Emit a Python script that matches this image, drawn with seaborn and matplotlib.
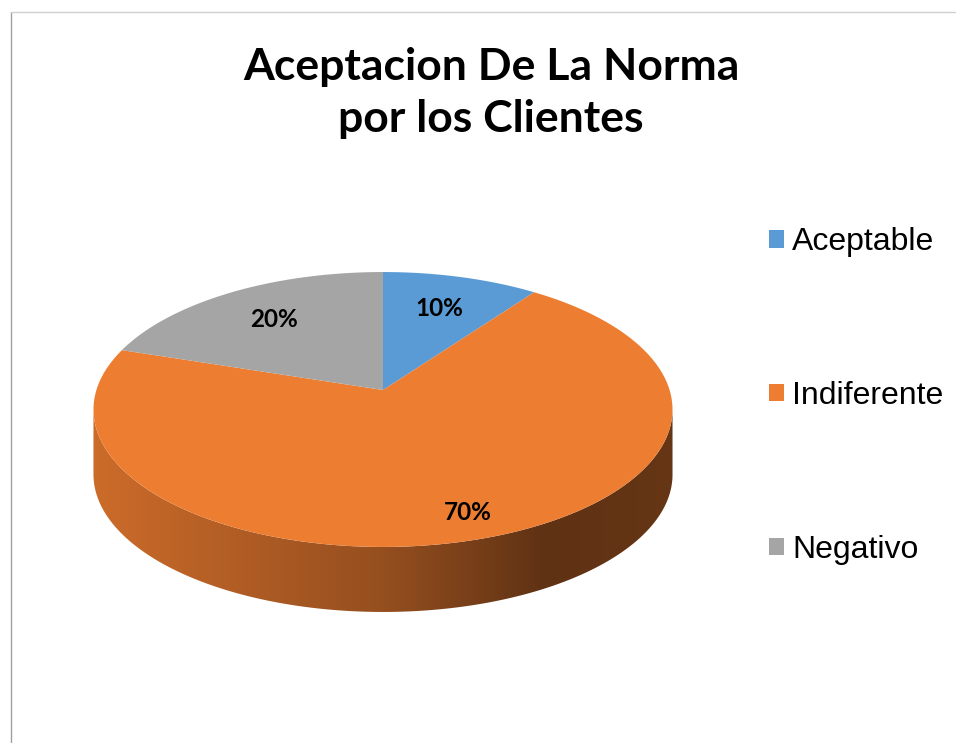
import numpy as np
import matplotlib
matplotlib.use("Agg")
from matplotlib import pyplot as plt
from matplotlib.patches import Polygon, Patch
from matplotlib.lines import Line2D
from matplotlib.colors import LinearSegmentedColormap
import seaborn as sns

# Datos del grafico
categorias = ["Aceptable", "Indiferente", "Negativo"]
porcentajes = [10, 70, 20]
colores = ["#5B9BD5", "#ED7D31", "#A5A5A5"]
titulo = "Aceptacion De La Norma\npor los Clientes"

sns.set_theme(style="white")
palette = sns.color_palette(colores)

W, H = 956, 743
fig = plt.figure(figsize=(W / 100, H / 100), dpi=100)
ax = fig.add_axes([0, 0, 1, 1])

# el pie calcula los angulos de cada porcion
wedges, _ = ax.pie(porcentajes, colors=palette, startangle=90, counterclock=False)

# disco visto en perspectiva (pixeles)
cx, cy, A, B, e, depth = 383, 390, 286.6, 134.7, 0.1418, 65


def proj(x, y):
    d = 1 + e * y
    return cx + A * x / d, cy - B * y / d


# pared lateral con degradado
a0 = np.degrees(np.arcsin(e))
t = np.radians(np.linspace(180 + a0, 360 - a0, 200))
ux, uy = proj(np.cos(t), np.sin(t))
side = np.concatenate([np.column_stack([ux, uy]),
                       np.column_stack([ux[::-1], uy[::-1] + depth])])
side_patch = Polygon(side, closed=True, facecolor="none", edgecolor="none")
ax.add_patch(side_patch)

base = np.array(palette[1])
cmap = LinearSegmentedColormap.from_list(
    "lado", [(0.0, base * 0.86), (0.5, base * 0.63), (0.78, base * 0.40), (1.0, base * 0.43)])
grad = np.linspace(0, 1, 256).reshape(1, -1)
img = ax.imshow(grad, cmap=cmap, aspect="auto",
                extent=(ux.min(), ux.max(), uy.max() + depth, uy.min()))
img.set_clip_path(side_patch)

# cara superior
dist = [0.7, 0.85, 0.7]
for w, p, r in zip(wedges, porcentajes, dist):
    ang = np.radians(np.linspace(w.theta1, w.theta2, 120))
    px, py = proj(np.r_[0, np.cos(ang)], np.r_[0, np.sin(ang)])
    ax.add_patch(Polygon(np.column_stack([px, py]), closed=True,
                         facecolor=w.get_facecolor(), edgecolor="none"))
    w.remove()
    mid = np.radians((w.theta1 + w.theta2) / 2)
    lx, ly = proj(r * np.cos(mid), r * np.sin(mid))
    ax.text(lx, ly, f"{p}%", ha="center", va="center", fontsize=17.5,
            fontweight="bold", family="Lato", color="black")

ax.set_xlim(0, W)
ax.set_ylim(H, 0)
ax.set_aspect("auto")
ax.axis("off")

# titulo
fig.text(491 / W, 1 - 93 / H, titulo, ha="center", va="center", fontsize=32,
         fontweight="bold", family="Lato", linespacing=1.38, color="black")

# leyenda
handles = [Patch(facecolor=c, edgecolor="none") for c in palette]
fig.legend(handles, categorias, loc="upper left", bbox_to_anchor=(769 / W, 1 - 227 / H),
           frameon=False, prop={"family": "Liberation Sans", "size": 23},
           labelcolor="black", handlelength=0.48, handleheight=0.48, handletextpad=0.25,
           labelspacing=3.88, borderpad=0, borderaxespad=0)

# borde del area del grafico
fig.add_artist(Line2D([11 / W, 11 / W], [0, 1 - 12 / H], color="#A0A0A0", lw=1))
fig.add_artist(Line2D([11 / W, 1], [1 - 12 / H, 1 - 12 / H], color="#D0D0D0", lw=1))

fig.savefig("out.png", dpi=100)
